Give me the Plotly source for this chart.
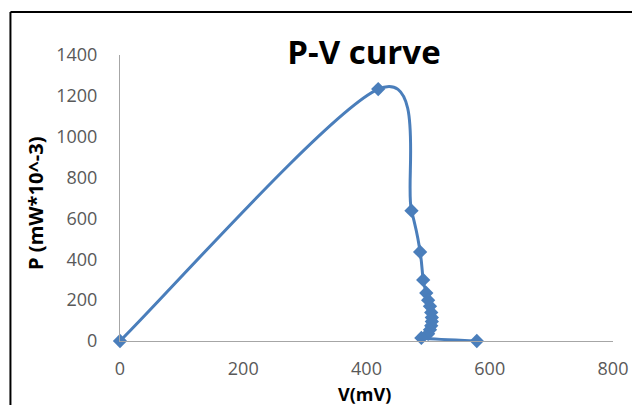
import plotly.graph_objects as go

# Data (V in mV, P in mW*10^-3)
voltage = [0, 419, 473, 487, 492, 497, 500, 503, 505, 506, 506, 505, 503, 500, 489, 579]
power = [0, 1233, 638, 436, 299, 235, 200, 170, 140, 115, 95, 75, 55, 35, 15, 0]

x_ticks = [0, 200, 400, 600, 800]
y_ticks = [0, 200, 400, 600, 800, 1000, 1200, 1400]

blue = "#4A7EBB"
font_family = "Open Sans, Liberation Sans, sans-serif"


def smooth_path(xs, ys, t=1 / 6):
    """Excel-style smoothed line: cubic Bezier segments (Catmull-Rom tangents)."""
    n = len(xs)
    parts = [f"M {xs[0]},{ys[0]}"]
    for i in range(n - 1):
        xp, yp = (xs[i - 1], ys[i - 1]) if i > 0 else (xs[i], ys[i])
        xn, yn = (xs[i + 2], ys[i + 2]) if i + 2 < n else (xs[i + 1], ys[i + 1])
        c1x = xs[i] + (xs[i + 1] - xp) * t
        c1y = ys[i] + (ys[i + 1] - yp) * t
        c2x = xs[i + 1] - (xn - xs[i]) * t
        c2y = ys[i + 1] - (yn - ys[i]) * t
        parts.append(f"C {c1x},{c1y} {c2x},{c2y} {xs[i + 1]},{ys[i + 1]}")
    return " ".join(parts)


fig = go.Figure()
fig.add_trace(go.Scatter(
    x=voltage, y=power,
    mode="markers",
    marker=dict(symbol="diamond", size=11, color=blue),
    cliponaxis=False,
    showlegend=False,
))

# page has an 8px body margin, so the figure is drawn 8px smaller and offset
OFF = 8
W, H = 640 - OFF, 405 - OFF
L, T = 120 - OFF, 55 - OFF
pw, ph = 504, 286
R, B = W - L - pw, H - T - ph


def px_x(p):
    return (p - OFF - L) / pw


def px_y(p):
    return (T + ph - (p - OFF)) / ph


fig.update_layout(
    width=W, height=H,
    margin=dict(l=L, r=R, t=T, b=B, pad=0),
    paper_bgcolor="white", plot_bgcolor="white",
    font=dict(family=font_family, color="#595959", size=18),
    title=dict(text="<b>P-V curve</b>", x=(364 - OFF) / W, y=1 - (52 - OFF) / H,
               xanchor="center", yanchor="middle", xref="container", yref="container",
               font=dict(size=33, color="black", family=font_family)),
    xaxis=dict(range=[0, 800], tickvals=x_ticks, showgrid=False, zeroline=False,
               showline=True, linecolor="#A6A6A6", linewidth=1,
               ticks="", ticklabelstandoff=11, fixedrange=True),
    yaxis=dict(range=[0, 1400], tickvals=y_ticks, showgrid=False, zeroline=False,
               showline=True, linecolor="#A6A6A6", linewidth=1,
               ticks="", ticklabelstandoff=18, fixedrange=True),
    annotations=[
        dict(text="<b>V(mV)</b>", x=px_x(370), y=px_y(394), xref="paper", yref="paper",
             xanchor="center", yanchor="middle", showarrow=False,
             font=dict(size=18, color="black", family=font_family)),
        dict(text="<b>P (mW*10^-3)</b>", x=px_x(33), y=px_y(203), xref="paper", yref="paper",
             xanchor="center", yanchor="middle", showarrow=False, textangle=-90,
             font=dict(size=20, color="black", family=font_family)),
    ],
    shapes=[
        dict(type="path", xref="x", yref="y", path=smooth_path(voltage, power),
             line=dict(color=blue, width=3), layer="below"),
        dict(type="line", xref="paper", yref="paper", x0=px_x(8), x1=px_x(645),
             y0=px_y(12), y1=px_y(12), line=dict(color="black", width=2)),
        dict(type="line", xref="paper", yref="paper", x0=px_x(8), x1=px_x(8),
             y0=px_y(12), y1=px_y(410), line=dict(color="black", width=2)),
    ],
)

fig.write_html("out.html")
